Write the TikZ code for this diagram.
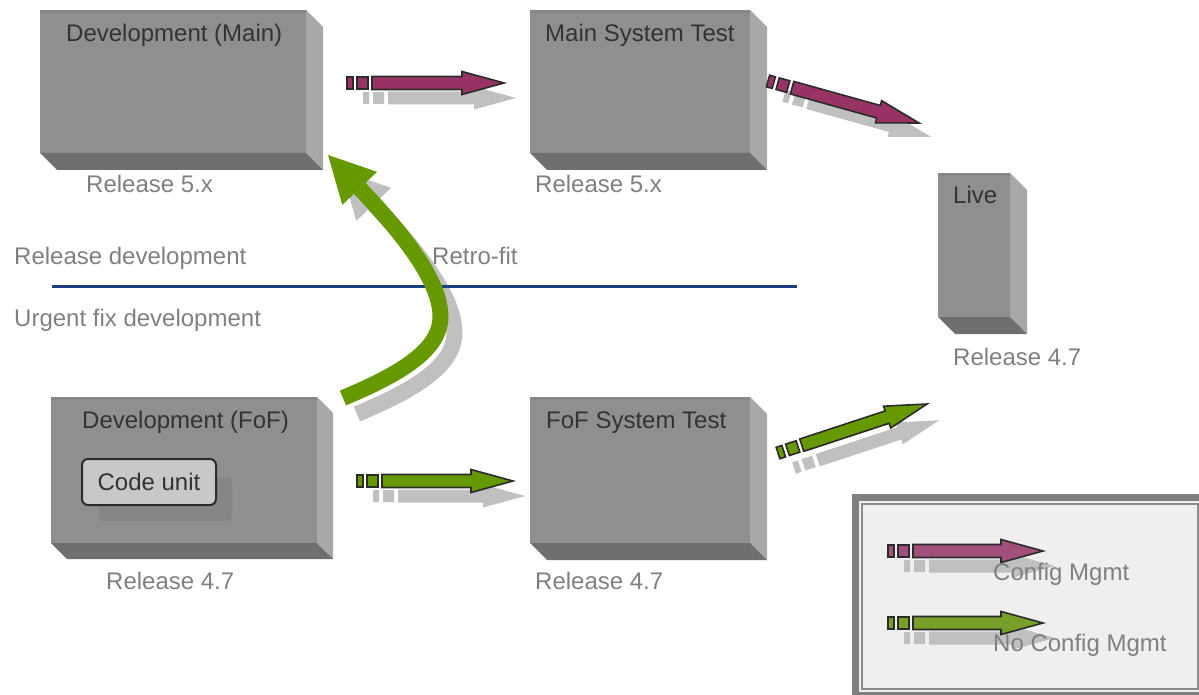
\documentclass[tikz,border=0pt]{standalone}
\usepackage{fontspec}
\setmainfont{Liberation Sans}
\usetikzlibrary{calc,arrows.meta}

\definecolor{facegray}{HTML}{8F8F8F}
\definecolor{topband}{HTML}{878787}
\definecolor{sidegray}{HTML}{A8A8A8}
\definecolor{basegray}{HTML}{6F6F6F}
\definecolor{shadowgray}{HTML}{C0C0C0}
\definecolor{cmpurple}{HTML}{993366}
\definecolor{ncgreen}{HTML}{669900}
\definecolor{lgpurple}{HTML}{A34F7C}
\definecolor{lggreen}{HTML}{78A028}
\definecolor{outline}{HTML}{2B2B2B}
\definecolor{labelgray}{HTML}{808080}
\definecolor{titlegray}{HTML}{333333}
\definecolor{divider}{HTML}{1C3F80}
\definecolor{legendfill}{HTML}{EFEFEF}
\definecolor{legendframe}{HTML}{7F7F7F}
\definecolor{legendline}{HTML}{8C8C8C}
\definecolor{unitfill}{HTML}{C8C8C8}
\definecolor{unitshadow}{HTML}{868686}

\tikzset{
  face/.style={fill=facegray, inner sep=0pt, outer sep=0pt, anchor=north west},
  txt/.style={font=\fontsize{24}{28}\selectfont, inner sep=0pt, anchor=base west},
  title/.style={txt, text=titlegray},
  caption/.style={txt, text=labelgray},
  unitbox/.style={fill=unitfill, draw=outline, line width=2pt, rounded corners=6pt,
    minimum width=134pt, minimum height=46pt, text height=17pt, text depth=0pt,
    inner sep=0pt, font=\fontsize{24}{28}\selectfont, text=titlegray},
}

% side and base faces of a bevelled block whose front face is node #1
\newcommand\blocksides[2]{%
  \fill[topband] (#1.north west) rectangle ($(#1.north east)+(0,3)$);
  \fill[sidegray] (#1.north east) -- ++(#2,#2) -- ($(#1.south east)+(#2,#2)$) -- (#1.south east) -- cycle;
  \fill[basegray] (#1.south west) -- (#1.south east) -- ++(#2,#2) -- ($(#1.south west)+(#2,#2)$) -- cycle;
}

% block arrow along the local x axis: two lead-in squares, a shaft and a head
\newcommand\arrowshape[3]{%
  \pgfmathsetmacro\tiplen{#3}%
  \pgfmathsetmacro\headbase{\tiplen-42}%
  \filldraw[fill=#1, draw=#2, line width=1.6pt, line join=miter]
    (0,-6) rectangle (6,6)
    (10,-6) rectangle (21,6)
    (25,-6.5) -- (\headbase,-6.5) -- (\headbase,-11.5) -- (\tiplen,0)
      -- (\headbase,11.5) -- (\headbase,6.5) -- (25,6.5) -- cycle;
}

% block arrow with its drop shadow from coordinate #1 to coordinate #2
\newcommand\flowarrow[3]{%
  \path let \p1=(#1), \p2=(#2) in \pgfextra{%
    \pgfmathsetmacro\fa{atan2(\y2-\y1,\x2-\x1)}%
    \pgfmathsetmacro\fl{veclen(\x2-\x1,\y2-\y1)}%
    \xdef\flowang{\fa}\xdef\flowlen{\fl}};
  \begin{scope}[shift={($(#1)+(16,15)$)}, rotate=\flowang]
    \arrowshape{shadowgray}{none}{\flowlen-4}
  \end{scope}
  \begin{scope}[shift={(#1)}, rotate=\flowang]
    \arrowshape{#3}{outline}{\flowlen}
  \end{scope}
}

\begin{document}
\begin{tikzpicture}[x=1pt, y=-1pt]
\useasboundingbox (0,0) rectangle (1199,695);

% ---- blocks ----
\node[face, minimum width=266pt, minimum height=143pt] (devmain) at (40,10) {};
\blocksides{devmain}{17}
\node[face, minimum width=220pt, minimum height=143pt] (mainst) at (530,10) {};
\blocksides{mainst}{17}
\node[face, minimum width=72pt, minimum height=144pt] (live) at (938,173) {};
\blocksides{live}{17}
\node[face, minimum width=266pt, minimum height=146pt] (devfof) at (51,397) {};
\blocksides{devfof}{16}
\node[face, minimum width=220pt, minimum height=146pt] (fofst) at (530,397) {};
\blocksides{fofst}{17}

% ---- code unit inside the FoF block ----
\fill[unitshadow, rounded corners=5pt] (99,477) rectangle (232,521);
\node[unitbox] (codeunit) at (149,482) {Code unit};

% ---- titles and captions ----
\node[title] (tdevmain) at (66,42) {Development (Main)};
\node[caption] (rdevmain) at (86,193) {Release 5.x};
\node[title] (tmainst) at (545,42) {Main System Test};
\node[caption] (rmainst) at (535,193) {Release 5.x};
\node[title] (tlive) at (953,204) {Live};
\node[caption] (rlive) at (953,365) {Release 4.7};
\node[title] (tdevfof) at (82,428) {Development (FoF)};
\node[caption] (rdevfof) at (106,589) {Release 4.7};
\node[title] (tfofst) at (546,428) {FoF System Test};
\node[caption] (rfofst) at (535,589) {Release 4.7};
\node[caption] (reldev) at (14,264) {Release development};
\node[caption] (urgdev) at (14,326) {Urgent fix development};
\node[caption] (retro) at (432,264) {Retro-fit};

% ---- retro-fit arrow, divider line ----
\coordinate (rfs) at (343,398);
\coordinate (rfe) at (328,155);
\coordinate (divl) at (52,286);
\coordinate (divr) at (797,286);
\tikzset{retrofit/.style={line width=16pt,
  -{Triangle[length=46pt,width=48pt,line width=0pt]}}}
\draw[retrofit, shadowgray, transform canvas={shift={(14pt,-16pt)}}]
  (rfs) .. controls (410,370) and (445,345) .. (440,310)
        .. controls (436,270) and (385,215) .. (rfe);
\draw[divider, line width=3pt] (divl) -- (divr);
\draw[retrofit, ncgreen]
  (rfs) .. controls (410,370) and (445,345) .. (440,310)
        .. controls (436,270) and (385,215) .. (rfe);

% ---- flow arrows between blocks ----
\coordinate (a1s) at (347,83);  \coordinate (a1e) at (504,83);
\coordinate (a2s) at (768,81);  \coordinate (a2e) at (919,123);
\coordinate (a3s) at (357,481); \coordinate (a3e) at (513,481);
\coordinate (a4s) at (778,453); \coordinate (a4e) at (927,404);
\flowarrow{a1s}{a1e}{cmpurple}
\flowarrow{a2s}{a2e}{cmpurple}
\flowarrow{a3s}{a3e}{ncgreen}
\flowarrow{a4s}{a4e}{ncgreen}

% ---- legend ----
\fill[legendframe] (852,494) rectangle (1199,695);
\fill[legendfill] (859,501) rectangle (1199,692);
\draw[legendline, line width=1.5pt] (862,504) rectangle (1198,689);
\coordinate (l1s) at (888,551); \coordinate (l1e) at (1043,551);
\coordinate (l2s) at (888,623); \coordinate (l2e) at (1043,623);
\flowarrow{l1s}{l1e}{lgpurple}
\flowarrow{l2s}{l2e}{lggreen}
\node[caption] (lgcm) at (993,580) {Config Mgmt};
\node[caption] (lgncm) at (993,651) {No Config Mgmt};
\end{tikzpicture}
\end{document}
